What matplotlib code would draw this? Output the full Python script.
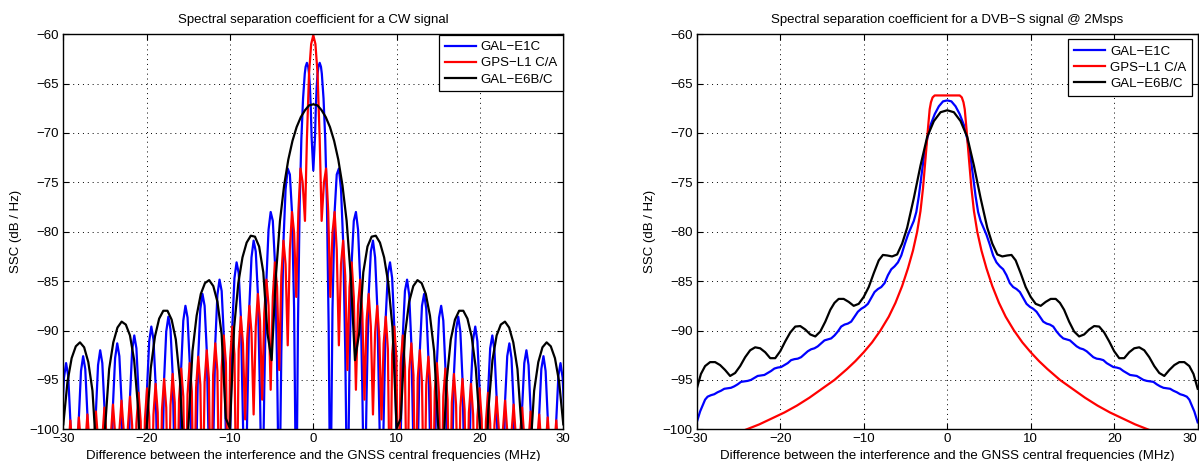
import numpy as np
import matplotlib
matplotlib.use("Agg")
import matplotlib.pyplot as plt

plt.rcParams['font.family'] = ['Liberation Sans', 'DejaVu Sans']
plt.rcParams['font.size'] = 9.5

# ---------------------------------------------------------------------------
# Spectral separation coefficients (dB/Hz), positive-offset half only.
# All spectra are symmetric about the GNSS carrier, so the negative side is
# obtained by mirroring each half around 0 MHz.
# ---------------------------------------------------------------------------
series_labels = ["GAL\u2212E1C", "GPS\u2212L1 C/A", "GAL\u2212E6B/C"]
series_colors = ["#0000ff", "#ff0000", "#000000"]

# --- CW interferer --------------------------------------------------------
cw_freq_e1c = [0.000, 0.205, 0.307, 0.409, 0.512, 0.614, 0.767, 0.921, 1.023,
               1.228, 1.432, 1.637, 1.841, 2.046,
               2.302, 2.558, 2.813, 3.069, 3.325, 3.581, 3.836, 4.092,
               4.348, 4.604, 4.859, 5.115, 5.371, 5.627, 5.882, 6.138,
               6.394, 6.650, 6.905, 7.161, 7.417, 7.672, 7.928, 8.184,
               8.440, 8.695, 8.951, 9.207, 9.463, 9.718, 9.974,
               10.486, 10.742, 10.997, 11.253, 11.509, 11.764, 12.020,
               12.532, 12.787, 13.043, 13.299, 13.555, 13.810, 14.066,
               14.578, 14.833, 15.089, 15.345, 15.601, 15.856, 16.112,
               16.624, 16.879, 17.135, 17.391, 17.647, 17.902, 18.158,
               18.670, 18.925, 19.181, 19.437, 19.693, 19.948, 20.204,
               20.716, 20.971, 21.227, 21.483, 21.739, 21.994, 22.250,
               22.762, 23.017, 23.273, 23.529, 23.785, 24.040, 24.296,
               24.808, 25.063, 25.319, 25.575, 25.831, 26.086, 26.342,
               26.854, 27.109, 27.365, 27.621, 27.877, 28.132, 28.388,
               28.900, 29.155, 29.411, 29.667, 29.923, 30.178]
cw_ssc_e1c = [-73.8, -70.4, -67.3, -65.3, -64.0, -63.3, -62.9, -63.3, -64.0,
              -66.5, -70.6, -77.3, -89.5, -110.0,
              -87.8, -78.0, -74.2, -73.6, -75.7, -81.0, -92.2, -110.0,
              -93.3, -83.1, -78.9, -78.0, -79.8, -84.9, -95.9, -110.0,
              -96.6, -86.3, -82.0, -80.9, -82.6, -87.5, -98.4, -110.0,
              -99.0, -88.6, -84.2, -83.1, -84.7, -89.6, -100.5,
              -100.9, -90.5, -86.0, -84.85, -86.4, -91.3, -102.1,
              -102.5, -92.0, -87.5, -86.3, -87.8, -92.7, -103.5,
              -103.8, -93.2, -88.7, -87.5, -89.0, -93.8, -104.6,
              -104.9, -94.4, -89.9, -88.6, -90.1, -94.9, -105.7,
              -106.0, -95.4, -90.9, -89.6, -91.1, -95.8, -106.6,
              -106.9, -96.3, -91.8, -90.5, -92.0, -96.7, -107.5,
              -107.7, -97.1, -92.6, -91.3, -92.8, -97.5, -108.3,
              -108.4, -97.8, -93.3, -92.0, -93.5, -98.2, -109.0,
              -109.0, -98.5, -93.9, -92.6, -94.1, -98.8, -109.6,
              -109.7, -99.1, -94.6, -93.3, -94.8, -99.5]

cw_freq_l1ca = [0.000, 0.256, 0.512, 0.767, 1.000,
                1.279, 1.535, 1.790, 2.046,
                2.302, 2.558, 2.813, 3.069,
                3.325, 3.581, 3.836, 4.092,
                4.348, 4.604, 4.859, 5.115,
                5.371, 5.627, 5.882, 6.138,
                6.394, 6.650, 6.905, 7.161,
                7.417, 7.672, 7.928, 8.184,
                8.440, 8.695, 8.951, 9.207,
                9.463, 9.718, 9.974, 10.230,
                10.486, 10.742, 10.997, 11.253,
                11.509, 11.764, 12.020, 12.276,
                12.532, 12.787, 13.043, 13.299,
                13.555, 13.810, 14.066, 14.322,
                14.578, 14.833, 15.089, 15.345,
                15.601, 15.856, 16.112, 16.368,
                16.624, 16.879, 17.135, 17.391,
                17.647, 17.902, 18.158, 18.414,
                18.670, 18.925, 19.181, 19.437,
                19.693, 19.948, 20.204, 20.460,
                20.716, 20.971, 21.227, 21.483,
                21.739, 21.994, 22.250, 22.506,
                22.762, 23.017, 23.273, 23.529,
                23.785, 24.040, 24.296, 24.552,
                24.808, 25.063, 25.319, 25.575,
                25.831, 26.086, 26.342, 26.598,
                26.854, 27.109, 27.365, 27.621,
                27.877, 28.132, 28.388, 28.644,
                28.900, 29.155, 29.411, 29.667,
                29.923, 30.178]
cw_ssc_l1ca = [-60.1, -61.0, -64.0, -70.6, -78.9,
               -75.0, -73.6, -77.95, -86.6,
               -80.1, -78.0, -81.8, -91.5,
               -83.3, -80.9, -84.5, -94.0,
               -85.6, -83.1, -86.6, -96.0,
               -87.45, -84.85, -88.25, -97.0,
               -89.0, -86.3, -89.6, -98.5,
               -90.2, -87.5, -90.8, -99.0,
               -91.35, -88.6, -91.9, -110.0,
               -92.4, -89.6, -92.8, -110.0,
               -93.3, -90.5, -93.7, -110.0,
               -94.1, -91.3, -94.5, -110.0,
               -94.85, -92.0, -95.2, -110.0,
               -95.5, -92.65, -95.8, -110.0,
               -96.15, -93.3, -96.45, -110.0,
               -96.7, -93.85, -97.0, -110.0,
               -97.3, -94.4, -97.55, -110.0,
               -97.8, -94.9, -98.0, -110.0,
               -98.3, -95.4, -98.5, -110.0,
               -98.75, -95.85, -98.95, -110.0,
               -99.2, -96.3, -99.4, -110.0,
               -99.6, -96.7, -99.8, -110.0,
               -100.0, -97.1, -100.2, -110.0,
               -100.4, -97.5, -100.6, -110.0,
               -100.7, -97.8, -100.9, -110.0,
               -101.1, -98.2, -101.3, -110.0,
               -101.4, -98.5, -101.6, -110.0,
               -101.7, -98.8, -101.9, -110.0,
               -102.0, -99.1, -102.2, -110.0,
               -102.3, -99.4]

cw_freq_e6 = [0.0, 0.5, 1.0, 1.5, 2.0, 2.5, 3.0, 3.5, 4.0, 4.5,
              5.0, 5.5, 6.0, 6.5, 7.0, 7.5, 8.0, 8.5, 9.0, 9.5,
              10.0, 10.5, 11.0, 11.5, 12.0, 12.5, 13.0, 13.5, 14.0, 14.5,
              15.0, 15.5, 16.0, 16.5, 17.0, 17.5, 18.0, 18.5, 19.0, 19.5,
              20.0, 20.5, 21.0, 21.5, 22.0, 22.5, 23.0, 23.5, 24.0, 24.5,
              25.0, 25.5, 26.0, 26.5, 27.0, 27.5, 28.0, 28.5, 29.0, 29.5,
              30.0]
cw_ssc_e6 = [-67.1, -67.2, -67.7, -68.4, -69.4, -70.8, -72.7, -75.3, -78.9, -84.6,
             -93.0, -90.3, -84.1, -81.5, -80.5, -80.4, -81.1, -82.6, -85.2, -89.7,
             -99.9, -98.9, -90.4, -87.1, -85.5, -84.9, -85.2, -86.3, -88.5, -92.1,
             -99.9, -104.0, -95.1, -90.9, -88.9, -88.0, -88.0, -88.8, -90.6, -93.8,
             -99.9, -110.0, -98.1, -93.0, -90.5, -89.4, -89.1, -89.7, -91.2, -93.9,
             -100.0, -110.0, -102.9, -96.1, -93.2, -91.7, -91.2, -91.6, -92.8, -95.2,
             -99.5]

# --- DVB-S interferer @ 2 Msps -------------------------------------------
dvb_freq_e1c = [0.0, 0.5, 1.0, 1.5, 2.0, 2.4, 2.8, 3.1, 3.4, 3.7,
                4.0, 4.3, 4.7, 5.1, 5.5, 5.9, 6.3, 6.7, 7.1, 7.5,
                7.9, 8.3, 8.7, 9.1, 9.5, 9.9, 10.3, 10.7, 11.1, 11.5,
                11.9, 12.3, 12.7, 13.1, 13.5, 13.9, 14.3, 14.7, 15.1, 15.5,
                15.9, 16.3, 16.7, 17.1, 17.5, 17.9, 18.3, 18.7, 19.1, 19.5,
                19.9, 20.3, 20.7, 21.1, 21.5, 21.9, 22.3, 22.7, 23.1, 23.5,
                23.9, 24.3, 24.7, 25.1, 25.5, 25.9, 26.3, 26.7, 27.1, 27.5,
                27.9, 28.3, 28.7, 29.0, 29.3, 29.6, 30.0]
dvb_ssc_e1c = [-66.7, -66.8, -67.3, -68.1, -69.2, -70.6, -72.5, -74.4, -76.4, -78.0,
               -78.9, -79.5, -80.3, -81.3, -82.4, -83.1, -83.5, -83.8, -84.4, -85.2,
               -85.6, -85.8, -86.1, -86.7, -87.3, -87.6, -87.8, -88.1, -88.6, -89.1,
               -89.3, -89.4, -89.6, -90.1, -90.5, -90.8, -90.9, -91.0, -91.3, -91.6,
               -91.8, -91.9, -92.1, -92.4, -92.7, -92.85, -92.9, -93.0, -93.3, -93.5,
               -93.7, -93.75, -93.85, -94.1, -94.3, -94.5, -94.55, -94.6, -94.8, -95.0,
               -95.1, -95.15, -95.2, -95.45, -95.65, -95.8, -95.85, -95.9, -96.1, -96.25,
               -96.45, -96.55, -96.7, -97.0, -97.6, -98.2, -99.3]

dvb_freq_l1ca = [0.0, 0.8, 1.5, 1.75, 1.95, 2.1, 2.3, 2.6, 2.9, 3.2,
                 3.6, 4.1, 4.7, 5.4, 6.2, 7.0, 8.0, 9.0, 10.0, 11.0,
                 12.0, 13.5, 15.0, 16.5, 18.0, 19.5, 21.0, 22.5, 24.0, 25.5]
dvb_ssc_l1ca = [-66.2, -66.2, -66.2, -66.4, -66.9, -67.6, -69.5, -72.6, -75.6, -77.9,
                -80.0, -81.9, -83.7, -85.5, -87.2, -88.6, -90.0, -91.2, -92.2, -93.1,
                -93.9, -95.0, -95.9, -96.8, -97.6, -98.3, -98.9, -99.5, -100.0, -100.5]

dvb_freq_e6 = [0.0, 0.8, 1.6, 2.4, 3.2, 4.0, 4.8, 5.4, 6.0, 6.6,
               7.2, 7.7, 8.2, 8.8, 9.4, 10.0, 10.6, 11.2, 11.8, 12.4,
               13.0, 13.5, 14.0, 14.6, 15.2, 15.8, 16.4, 17.0, 17.6, 18.2,
               18.8, 19.4, 20.0, 20.6, 21.2, 21.8, 22.4, 23.0, 23.6, 24.2,
               24.8, 25.4, 26.0, 26.6, 27.2, 27.8, 28.4, 29.0, 29.5, 30.0]
dvb_ssc_e6 = [-67.7, -67.9, -68.8, -70.4, -73.3, -76.6, -79.6, -81.2, -82.3, -82.5,
              -82.4, -82.35, -82.9, -84.2, -85.6, -86.6, -87.3, -87.5, -87.1, -86.8,
              -86.8, -87.2, -87.9, -89.1, -90.1, -90.6, -90.4, -89.9, -89.55, -89.6,
              -90.2, -91.1, -92.1, -92.8, -92.8, -92.2, -91.8, -91.7, -92.0, -92.7,
              -93.6, -94.3, -94.6, -94.0, -93.5, -93.2, -93.2, -93.6, -94.4, -95.9]

x_ticks = [-30, -20, -10, 0, 10, 20, 30]
y_ticks = [-100, -95, -90, -85, -80, -75, -70, -65, -60]

titles = ["Spectral separation coefficient for a CW signal",
          "Spectral separation coefficient for a DVB\u2212S signal @ 2Msps"]
x_label = "Difference between the interference and the GNSS central frequencies (MHz)"
y_label = "SSC (dB / Hz)"


def mirror(freq, vals):
    """Extend a one-sided symmetric spectrum to negative offsets."""
    f = np.asarray(freq, dtype=float)
    v = np.asarray(vals, dtype=float)
    return np.concatenate([-f[:0:-1], f]), np.concatenate([v[:0:-1], v])


panels = [
    [(cw_freq_e1c, cw_ssc_e1c), (cw_freq_l1ca, cw_ssc_l1ca), (cw_freq_e6, cw_ssc_e6)],
    [(dvb_freq_e1c, dvb_ssc_e1c), (dvb_freq_l1ca, dvb_ssc_l1ca), (dvb_freq_e6, dvb_ssc_e6)],
]

fig = plt.figure(figsize=(11.99, 4.61), dpi=100)
axes_rects = [[0.0528, 0.0688, 0.417, 0.857], [0.5811, 0.0688, 0.4178, 0.857]]
legend_anchor = [(0.9994, 0.998), (0.989, 0.987)]

for i, rect in enumerate(axes_rects):
    ax = fig.add_axes(rect)
    for (f, v), lab, col in zip(panels[i], series_labels, series_colors):
        xf, yv = mirror(f, v)
        ax.plot(xf, yv, color=col, lw=1.6, label=lab, solid_joinstyle='round')
    ax.set_xlim(-30, 30)
    ax.set_ylim(-100, -60)
    ax.set_xticks(x_ticks)
    ax.set_yticks(y_ticks)
    ax.grid(True, color='k', linestyle=(0, (1, 4)), linewidth=0.7)
    ax.tick_params(direction='in', top=True, right=True, length=4, width=0.8,
                   labelsize=9.5, pad=3)
    for sp in ax.spines.values():
        sp.set_linewidth(1.0)
        sp.set_color('k')
    ax.set_title(titles[i], fontsize=9.5, pad=8)
    ax.set_xlabel(x_label, fontsize=9.5, labelpad=3)
    ax.set_ylabel(y_label, fontsize=9.5, labelpad=5)
    leg = ax.legend(loc='upper right', bbox_to_anchor=legend_anchor[i],
                    borderaxespad=0, fancybox=False, framealpha=1,
                    edgecolor='k', fontsize=9.5, handlelength=2.4,
                    handletextpad=0.35, borderpad=0.45, labelspacing=0.3)
    leg.get_frame().set_linewidth(0.9)
    for ln in leg.get_lines():
        ln.set_linewidth(1.6)
    if i == 1:
        # keep the last tick label inside the figure at the right edge
        fig.canvas.draw()
        ax.get_xticklabels()[-1].set_horizontalalignment('right')

fig.savefig("out.png", dpi=100, facecolor='white')
